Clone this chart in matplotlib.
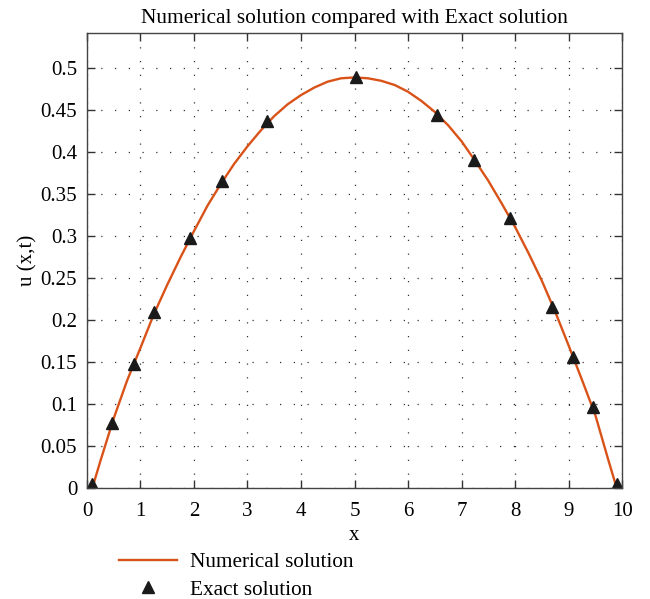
import matplotlib.pyplot as plt

# numerical solution
x_num = [0.1, 0.25, 0.5, 0.75, 1.0, 1.25, 1.5, 1.75, 2.0, 2.25, 2.5, 2.75, 3.0,
         3.25, 3.5, 3.75, 4.0, 4.25, 4.5, 4.75, 5.0, 5.25, 5.5, 5.75, 6.0,
         6.25, 6.5, 6.75, 7.0, 7.25, 7.5, 7.75, 8.0, 8.25, 8.5, 8.75, 9.0,
         9.25, 9.5, 9.75, 9.9]
u_num = [0.0, 0.032, 0.083, 0.128, 0.167, 0.207, 0.242, 0.275, 0.306, 0.336, 0.362,
         0.386, 0.407, 0.426, 0.443, 0.457, 0.468, 0.477, 0.484, 0.488, 0.489,
         0.488, 0.485, 0.480, 0.472, 0.461, 0.448, 0.432, 0.413, 0.390, 0.366,
         0.339, 0.311, 0.280, 0.247, 0.210, 0.170, 0.129, 0.087, 0.032, 0.0]

# exact solution markers
x_exact = [0.10, 0.46, 0.88, 1.26, 1.93, 2.52, 3.36, 5.02,
           6.55, 7.23, 7.91, 8.70, 9.09, 9.45, 9.90]
u_exact = [0.005, 0.077, 0.148, 0.210, 0.298, 0.366, 0.437, 0.489,
           0.444, 0.391, 0.321, 0.215, 0.156, 0.096, 0.005]

xticks = list(range(0, 11))
yticks = [0, 0.05, 0.1, 0.15, 0.2, 0.25, 0.3, 0.35, 0.4, 0.45, 0.5]
ytick_labels = ['0', '0.05', '0.1', '0.15', '0.2', '0.25', '0.3', '0.35', '0.4', '0.45', '0.5']

plt.rcParams['font.family'] = ['Liberation Serif', 'DejaVu Serif']
plt.rcParams['font.size'] = 15

fig = plt.figure(figsize=(6.5, 5.99), dpi=100)
ax = fig.add_axes([0.1338, 0.1853, 0.8232, 0.7597])

line, = ax.plot(x_num, u_num, color='#D95319', lw=1.7, label='Numerical solution')
pts, = ax.plot(x_exact, u_exact, linestyle='none', marker='^', color='#1a1a1a',
               markersize=9, label='Exact solution')

ax.set_xlim(0, 10)
ax.set_ylim(0, 0.542)
ax.set_xticks(xticks)
ax.set_yticks(yticks)
ax.set_yticklabels(ytick_labels)
ax.tick_params(direction='in', length=6, width=1, top=True, right=True,
               labelsize=15, color='#333333')
ax.tick_params(axis='y', pad=7)
ax.tick_params(axis='x', pad=10)
ax.grid(True, linestyle=(0, (1, 10)), color='#333333', linewidth=0.9)
for s in ax.spines.values():
    s.set_color('#444444')
    s.set_linewidth(1)

ax.set_title('Numerical solution compared with Exact solution', fontsize=15.4, pad=7)
ax.set_xlabel('x', fontsize=15, labelpad=4)
ax.set_ylabel('u (x,t)', fontsize=15, labelpad=2)

fig.legend(handles=[line, pts], loc='upper left', bbox_to_anchor=(0.170, 0.092),
           frameon=False, handlelength=2.75, labelspacing=0.36, fontsize=15.3,
           borderaxespad=0, handletextpad=0.6)

fig.savefig('out.png', dpi=100)
